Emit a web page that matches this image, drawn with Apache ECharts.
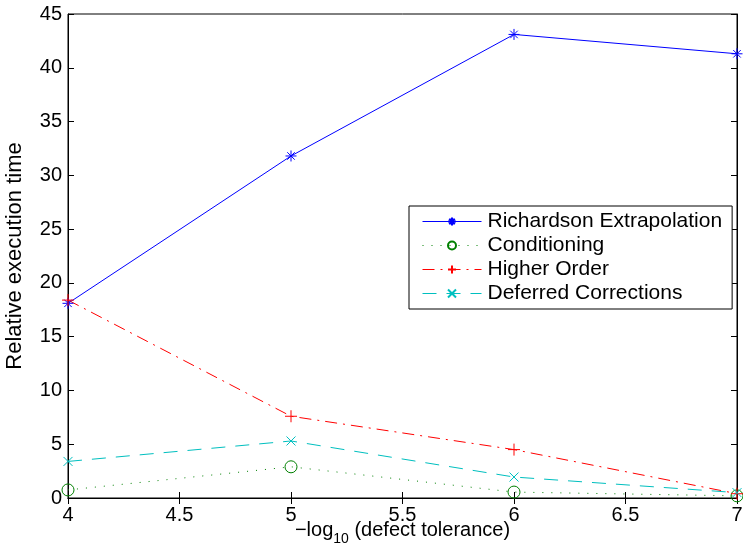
<!DOCTYPE html>
<html>
<head>
<meta charset="utf-8">
<script src="https://cdn.jsdelivr.net/npm/echarts@6/dist/echarts.min.js"></script>
<style>
  html, body { margin: 0; padding: 0; background: #fff; }
  #c1 { width: 743px; height: 548px; }
</style>
</head>
<body>
<div id="c1"></div>
<script>
var tolerances = [4, 5, 6, 7];
var richardson = [18.1, 31.8, 43.1, 41.3];
var conditioning = [0.75, 2.9, 0.55, 0.2];
var higherOrder = [18.4, 7.6, 4.5, 0.4];
var deferred = [3.4, 5.3, 1.95, 0.5];
var seriesNames = ['Richardson Extrapolation', 'Conditioning', 'Higher Order', 'Deferred Corrections'];

var FONT = 'Liberation Sans';

function pairs(ys){
  var out = [];
  for (var i = 0; i < tolerances.length; i++) out.push([tolerances[i], ys[i]]);
  return out;
}

var STAR = 'path://M5,0L5,10M0,5L10,5M1.6,1.6L8.4,8.4M8.4,1.6L1.6,8.4';
var PLUS = 'path://M5,0L5,10M0,5L10,5';
var CROSS = 'path://M0,0L10,10M10,0L0,10';

function makeSeries(name, ys, color, symbol, size, dash){
  return {
    name: name,
    type: 'line',
    data: pairs(ys),
    symbol: symbol,
    symbolSize: size,
    showSymbol: true,
    clip: false,
    lineStyle: {color: color, width: 1, type: dash},
    itemStyle: {color: 'none', borderColor: color, borderWidth: 1},
    emphasis: {disabled: true},
    animation: false
  };
}

var tickStyle = {show: true, inside: true, length: 6, lineStyle: {color: '#000', width: 1}};

var option = {
  animation: false,
  backgroundColor: '#fff',
  grid: {
    left: 68, right: 6, top: 14, bottom: 50,
    containLabel: false, outerBoundsMode: 'none',
    show: true, borderColor: '#000', borderWidth: 1
  },
  legend: {
    data: seriesNames,
    orient: 'vertical',
    left: 409,
    top: 206,
    padding: [5, 10, 5, 13],
    itemGap: 3,
    itemWidth: 59,
    itemHeight: 10,
    borderColor: '#000',
    borderWidth: 1,
    borderRadius: 0,
    backgroundColor: '#fff',
    lineStyle: {width: 1},
    textStyle: {fontFamily: FONT, fontSize: 21, lineHeight: 20, color: '#000', padding: [0, 0, 0, 1]}
  },
  xAxis: [
    {
      type: 'value', min: 4, max: 7, interval: 0.5,
      axisLine: {show: true, lineStyle: {color: '#000'}},
      axisTick: tickStyle,
      splitLine: {show: false},
      axisLabel: {fontFamily: FONT, fontSize: 20, color: '#000', margin: 7},
      name: '{a|\u2212log}{sub|10}{a| (defect tolerance)}',
      nameLocation: 'middle',
      nameGap: 22,
      nameMoveOverlap: false,
      nameTextStyle: {
        rich: {
          a: {fontFamily: FONT, fontSize: 20, color: '#000', lineHeight: 20},
          sub: {fontFamily: FONT, fontSize: 14, color: '#000', lineHeight: 20, padding: [18, 0, 0, 0]}
        }
      }
    },
    {
      type: 'value', min: 4, max: 7, interval: 0.5, position: 'top',
      axisLine: {show: true, lineStyle: {color: '#000'}},
      axisTick: tickStyle,
      axisLabel: {show: false},
      splitLine: {show: false}
    }
  ],
  yAxis: [
    {
      type: 'value', min: 0, max: 45, interval: 5,
      axisLine: {show: true, lineStyle: {color: '#000'}},
      axisTick: tickStyle,
      splitLine: {show: false},
      axisLabel: {fontFamily: FONT, fontSize: 20, color: '#000', margin: 6},
      name: 'Relative execution time',
      nameLocation: 'middle',
      nameGap: 42,
      nameTextStyle: {fontFamily: FONT, fontSize: 22, color: '#000'}
    },
    {
      type: 'value', min: 0, max: 45, interval: 5, position: 'right',
      axisLine: {show: true, lineStyle: {color: '#000'}},
      axisTick: tickStyle,
      axisLabel: {show: false},
      splitLine: {show: false}
    }
  ],
  series: [
    makeSeries(seriesNames[0], richardson, '#0000ff', STAR, 11, 'solid'),
    makeSeries(seriesNames[1], conditioning, '#008000', 'circle', 12, [1, 8]),
    makeSeries(seriesNames[2], higherOrder, '#ff0000', PLUS, 12, [12, 6, 2, 6]),
    makeSeries(seriesNames[3], deferred, '#00bfbf', CROSS, 9, [14, 10])
  ]
};

var myChart = echarts.init(document.getElementById('c1'));
myChart.setOption(option);
</script>
</body>
</html>
